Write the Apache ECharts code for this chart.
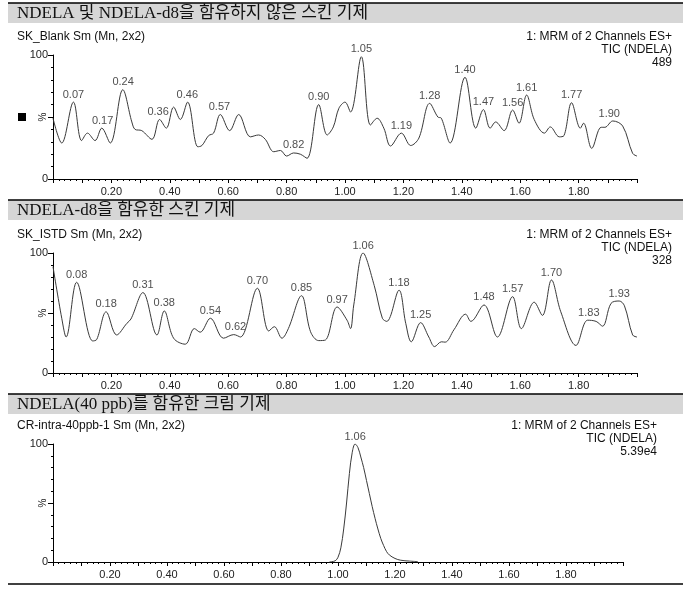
<!DOCTYPE html>
<html>
<head>
<meta charset="utf-8">
<script src="https://cdn.jsdelivr.net/npm/echarts@6/dist/echarts.min.js"></script>
<style>html,body{margin:0;padding:0;background:#fff}#c{width:700px;height:593px}</style>
</head>
<body>
<div id="c"></div>
<script>
// ---- data (retention time [min], relative intensity [%]) ----
const blankTime = [0,0.03,0.07,0.098,0.118,0.144,0.167,0.196,0.239,0.27,0.281,0.304,0.339,0.365,0.388,0.413,0.436,0.461,0.496,0.51,0.533,0.55,0.573,0.605,0.636,0.676,0.704,0.727,0.756,0.779,0.80,0.824,0.847,0.87,0.91,0.939,0.96,0.979,1.0,1.019,1.056,1.087,1.11,1.133,1.156,1.193,1.225,1.253,1.29,1.318,1.33,1.36,1.411,1.448,1.474,1.497,1.516,1.545,1.574,1.596,1.622,1.648,1.683,1.703,1.734,1.75,1.776,1.806,1.817,1.845,1.877,1.89,1.917,1.951,1.985,2.0];
const blankInt  = [49,29,62,31,37,31,41,29,72,46,40,39,32,48,41,58,48,62,26,27,35,37,52,39,52,34,35.5,32,22,23,18.5,21,20,16.7,60,35.5,42,57,62,54,98.6,43.5,49,41,26.6,37,27,33,61,50,49,29,82,41,56,41,46,39,55.6,45,67.7,48,37,42,34,35,61.5,41,45,24.7,41.7,41.7,46.8,42.7,20.7,18.5];
const blankPeaks = [[0.07,62,'0.07'],[0.17,41,'0.17'],[0.24,72,'0.24'],[0.36,48,'0.36'],[0.46,62,'0.46'],[0.57,52,'0.57'],[0.824,21,'0.82'],[0.91,60,'0.90'],[1.056,98.6,'1.05'],[1.193,37,'1.19'],[1.29,61,'1.28'],[1.411,82,'1.40'],[1.474,56,'1.47'],[1.574,55.6,'1.56'],[1.622,67.7,'1.61'],[1.776,61.5,'1.77'],[1.905,46,'1.90']];

const istdTime = [0,0.03,0.045,0.081,0.136,0.15,0.182,0.218,0.253,0.267,0.308,0.356,0.381,0.413,0.453,0.484,0.504,0.539,0.584,0.619,0.642,0.70,0.739,0.758,0.784,0.806,0.851,0.882,0.91,0.933,0.973,1.007,1.019,1.03,1.062,1.10,1.128,1.143,1.185,1.208,1.227,1.259,1.287,1.307,1.33,1.343,1.373,1.413,1.431,1.476,1.522,1.574,1.604,1.648,1.676,1.707,1.739,1.791,1.831,1.86,1.882,1.911,1.939,1.957,1.985,2.0];
const istdInt  = [88.6,45.6,30,75.6,26.7,28,51,31.7,41.4,45,67,31.7,51.7,29,24,37,34,45.6,29,32,30,70.6,35,38.6,29,37,64.4,34.4,27,27.5,55,44,37,56.7,100,73,45.6,43,69,41.4,26,42,30,22,26,25.7,36,49,43,56.7,30,63.6,37,59,48,77.5,51,23,44,43,39,58,60,56,31.7,30];
const istdPeaks = [[0.081,75.6,'0.08'],[0.182,51,'0.18'],[0.308,67,'0.31'],[0.381,51.7,'0.38'],[0.539,45.6,'0.54'],[0.625,32,'0.62'],[0.70,70.6,'0.70'],[0.851,64.4,'0.85'],[0.973,55,'0.97'],[1.062,100,'1.06'],[1.185,69,'1.18'],[1.259,42,'1.25'],[1.476,56.7,'1.48'],[1.574,63.6,'1.57'],[1.707,77.5,'1.70'],[1.835,44,'1.83'],[1.939,60,'1.93']];

const creamTime = [0.97,0.99,1.0,1.01,1.02,1.03,1.04,1.05,1.06,1.07,1.08,1.09,1.10,1.11,1.12,1.13,1.14,1.15,1.16,1.17,1.18,1.20,1.22,1.25,1.28];
const creamInt  = [0,1,4,12,28,50,75,93,100,97,89,80,69,58,47,37,28,20,14,9,6,3,1.5,0.8,0.3];
const creamPeaks = [[1.06,100,'1.06']];

const xTicks = [0.20,0.40,0.60,0.80,1.00,1.20,1.40,1.60,1.80];
const headers = ['NDELA 및 NDELA-d8을 함유하지 않은 스킨 기제','NDELA-d8을 함유한 스킨 기제','NDELA(40 ppb)를 함유한 크림 기제'];
const sampleNames = ['SK_Blank Sm (Mn, 2x2)','SK_ISTD Sm (Mn, 2x2)','CR-intra-40ppb-1 Sm (Mn, 2x2)'];
const infoLines = [['1: MRM of 2 Channels ES+','TIC (NDELA)','489'],['1: MRM of 2 Channels ES+','TIC (NDELA)','328'],['1: MRM of 2 Channels ES+','TIC (NDELA)','5.39e4']];

// ---- layout ----
const grids = [
  {left:53, width:584, top:55, height:124},
  {left:53, width:584, top:253, height:120},
  {left:53, width:570, top:444, height:118}
];
const bandTops = [3,200,394];
const sansFont = 'Liberation Sans, Arial, sans-serif';
const serifFont = 'Liberation Serif, DejaVu Serif, Noto Sans CJK KR, serif';
const lineColor = '#3a3a3a';

function zip(t,v){return t.map((x,i)=>[x,v[i]]);}

const xAxes = grids.map((g,i)=>({
  type:'value', gridIndex:i, min:0, max:2.0, interval:0.1,
  axisLine:{show:true,lineStyle:{color:'#000',width:1}},
  axisTick:{show:true,length:4,lineStyle:{color:'#000'}},
  minorTick:{show:true,splitNumber:5,length:2,lineStyle:{color:'#000'}},
  splitLine:{show:false},
  axisLabel:{
    margin:7, fontSize:11, color:'#222', fontFamily:sansFont,
    formatter:function(v){
      const hit = xTicks.find(t=>Math.abs(t-v)<1e-6);
      return hit!==undefined ? hit.toFixed(2) : '';
    }
  }
}));
const yAxes = grids.map((g,i)=>({
  type:'value', gridIndex:i, min:0, max:100, interval:50,
  axisLine:{show:true,lineStyle:{color:'#000',width:1}},
  axisTick:{show:true,length:5,lineStyle:{color:'#000'}},
  minorTick:{show:true,splitNumber:5,length:2,lineStyle:{color:'#000'}},
  splitLine:{show:false},
  axisLabel:{margin:5,fontSize:11,color:'#222',fontFamily:sansFont,
    formatter:function(v){return v===50?'':String(v);}}
}));

const sets = [[blankTime,blankInt,blankPeaks],[istdTime,istdInt,istdPeaks],[creamTime,creamInt,creamPeaks]];
const series = [];
sets.forEach((s,i)=>{
  series.push({
    type:'line', xAxisIndex:i, yAxisIndex:i, data:zip(s[0],s[1]),
    smooth:0.35, showSymbol:false, silent:true,
    lineStyle:{color:lineColor,width:1}
  });
  series.push({
    type:'scatter', xAxisIndex:i, yAxisIndex:i, symbolSize:0, silent:true,
    data:s[2].map(p=>({value:[p[0],p[1]],name:p[2]})),
    label:{show:true,position:'top',distance:2,fontSize:11,color:'#222',fontFamily:sansFont,
      formatter:function(p){return p.name;}}
  });
});

const graphic = [];
bandTops.forEach((y,i)=>{
  graphic.push({type:'rect',shape:{x:8,y:y,width:675,height:20},style:{fill:'#d6d6d6'},silent:true});
  graphic.push({type:'line',shape:{x1:8,y1:y,x2:683,y2:y},style:{stroke:'#000',lineWidth:1.5},silent:true});
  graphic.push({type:'text',x:17,y:y+11,style:{text:headers[i],fontSize:17,fontFamily:serifFont,fill:'#111',textVerticalAlign:'middle',textBaseline:'middle'},silent:true});
  const g = grids[i];
  graphic.push({type:'text',x:17,y:g.top-18,style:{text:sampleNames[i],fontSize:12,fontFamily:sansFont,fill:'#111',textVerticalAlign:'middle',textBaseline:'middle'},silent:true});
  const rx = i===2 ? 657 : 672;
  infoLines[i].forEach((t,k)=>{
    graphic.push({type:'text',x:rx,y:g.top-18+k*13,style:{text:t,fontSize:12,fontFamily:sansFont,fill:'#111',textAlign:'right',textVerticalAlign:'middle',textBaseline:'middle'},silent:true});
  });
  graphic.push({type:'text',x:43,y:g.top+g.height/2,rotation:Math.PI/2,style:{text:'%',fontSize:10,fontFamily:sansFont,fill:'#222',textAlign:'center',textVerticalAlign:'middle',textBaseline:'middle'},silent:true});
});
graphic.push({type:'line',shape:{x1:8,y1:584,x2:683,y2:584},style:{stroke:'#000',lineWidth:1.5},silent:true});
graphic.push({type:'rect',shape:{x:18,y:113,width:8,height:8},style:{fill:'#000'},silent:true});

const chart = echarts.init(document.getElementById('c'),null,{renderer:'canvas'});
chart.setOption({
  animation:false,
  backgroundColor:'#fff',
  grid:grids.map(g=>Object.assign({containLabel:false},g)),
  xAxis:xAxes, yAxis:yAxes, series:series, graphic:graphic
});
</script>
</body>
</html>
